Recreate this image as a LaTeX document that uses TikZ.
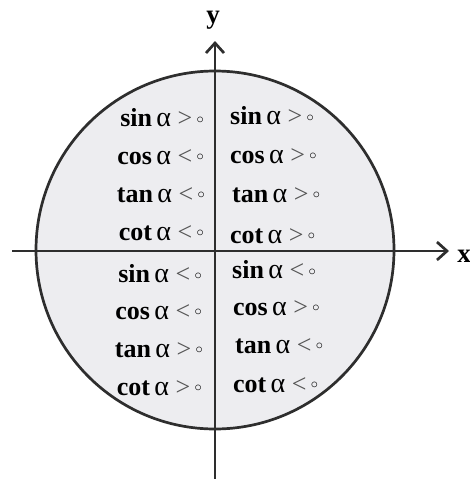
\documentclass[tikz,border=0pt]{standalone}
\usepackage{fontspec}
\setmainfont{Liberation Serif}
\usetikzlibrary{arrows.meta}
\definecolor{axisgray}{HTML}{2E2E2E}
\definecolor{fillgray}{HTML}{EDEDF0}
\definecolor{relgray}{HTML}{555555}
\newcommand{\trigrel}[2]{{\bfseries #1}\,{\fontsize{28}{28}\selectfont α}\ {\color{relgray}#2}\,\raisebox{3.5pt}{\fontsize{15}{15}\selectfont$\circ$}}
\tikzset{
  lbl/.style={font=\fontsize{26}{26}\selectfont, inner sep=0pt, text=black},
  axislabel/.style={font=\bfseries\fontsize{27}{27}\selectfont, inner sep=0pt},
  axisline/.style={draw=axisgray, line width=2.7pt, -{Straight Barb[length=10pt,width=18pt,line width=2.7pt]}},
}
\begin{document}
\begin{tikzpicture}[x=1pt,y=-1pt]
\useasboundingbox (0,0) rectangle (470,479);
\fill[fillgray] (215,250) circle (179);
\draw[axisgray, line width=2.7pt] (215,250) circle (179);
\coordinate (xs) at (12,251);
\coordinate (xe) at (449,251);
\coordinate (ys) at (215,479);
\coordinate (ye) at (215,41);
\draw[axisline] (xs) -- (xe);
\draw[axisline] (ys) -- (ye);
\node[axislabel] (xl) at (464,256) {x};
\node[axislabel] (yl) at (213,20) {y};
% quadrant II
\node[lbl, anchor=east] (q2a) at (204,118) {\trigrel{sin}{>}};
\node[lbl, anchor=east] (q2b) at (204,157) {\trigrel{cos}{<}};
\node[lbl, anchor=east] (q2c) at (205,195) {\trigrel{tan}{<}};
\node[lbl, anchor=east] (q2d) at (204,233) {\trigrel{cot}{<}};
% quadrant I
\node[lbl, anchor=west] (q1a) at (230,116) {\trigrel{sin}{>}};
\node[lbl, anchor=west] (q1b) at (230,156) {\trigrel{cos}{>}};
\node[lbl, anchor=west] (q1c) at (232,195) {\trigrel{tan}{>}};
\node[lbl, anchor=west] (q1d) at (230,236) {\trigrel{cot}{>}};
% quadrant III
\node[lbl, anchor=east] (q3a) at (202,274) {\trigrel{sin}{<}};
\node[lbl, anchor=east] (q3b) at (202,312) {\trigrel{cos}{<}};
\node[lbl, anchor=east] (q3c) at (203,350) {\trigrel{tan}{>}};
\node[lbl, anchor=east] (q3d) at (202,388) {\trigrel{cot}{>}};
% quadrant IV
\node[lbl, anchor=west] (q4a) at (232,270) {\trigrel{sin}{<}};
\node[lbl, anchor=west] (q4b) at (233,308) {\trigrel{cos}{>}};
\node[lbl, anchor=west] (q4c) at (235,346) {\trigrel{tan}{<}};
\node[lbl, anchor=west] (q4d) at (233,385) {\trigrel{cot}{<}};
\end{tikzpicture}
\end{document}
